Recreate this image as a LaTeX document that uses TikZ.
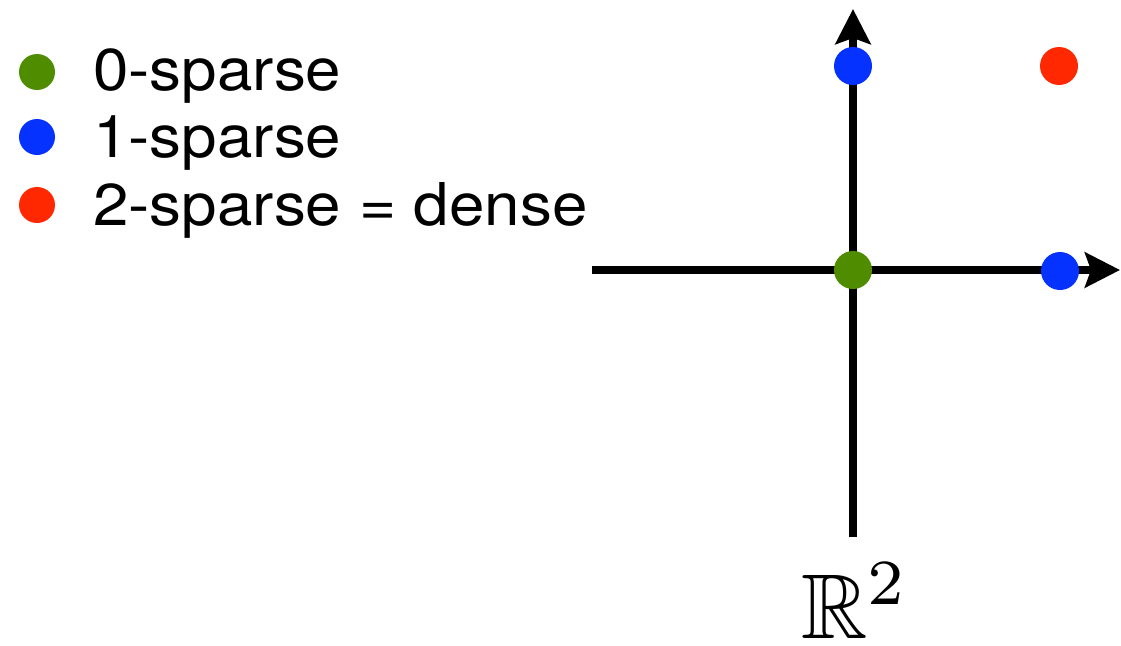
\documentclass[tikz,border=0pt]{standalone}
\usepackage{amssymb}
\usepackage{fontspec}
\setmainfont{TeX Gyre Heros}[FakeStretch=1.08]
\usetikzlibrary{arrows.meta}
\definecolor{dgreen}{RGB}{80,140,0}
\definecolor{dblue}{RGB}{5,50,255}
\definecolor{dred}{RGB}{255,40,0}
\tikzset{
  axis/.style={line width=7.5pt, -{Stealth[length=35pt,width=35pt,inset=6pt]}},
  dot/.style={circle, inner sep=0pt, minimum size=38pt, fill=#1},
  ldot/.style={circle, inner sep=0pt, minimum size=36pt, fill=#1},
  legtext/.style={anchor=base west, inner sep=0pt, font=\fontsize{59}{70}\selectfont}
}
\begin{document}
\begin{tikzpicture}[x=1pt,y=-1pt]
\useasboundingbox (0,0) rectangle (1121,645);
% axes
\coordinate (xs) at (592,270);
\coordinate (xe) at (1120,270);
\coordinate (ys) at (853,537);
\coordinate (ye) at (853,9);
\draw[axis] (xs) -- (xe);
\draw[axis] (ys) -- (ye);
% points
\node[dot=dgreen] (o) at (853,270) {};
\node[dot=dblue] (e1) at (1060,271) {};
\node[dot=dblue] (e2) at (853,66) {};
\node[dot=dred] (d) at (1059,66) {};
% label
\node[anchor=base west, inner sep=0pt] (r2) at (801,638) {\scalebox{9.2}{$\mathbb{R}^2$}};
% legend
\node[ldot=dgreen] (l0) at (37,72) {};
\node[ldot=dblue] (l1) at (37,137) {};
\node[ldot=dred] (l2) at (37,205) {};
\node[legtext] (t0) at (93,90) {0-sparse};
\node[legtext] (t1) at (93,157.5) {1-sparse};
\node[legtext] (t2) at (93,225) {2-sparse = dense};
\end{tikzpicture}
\end{document}
